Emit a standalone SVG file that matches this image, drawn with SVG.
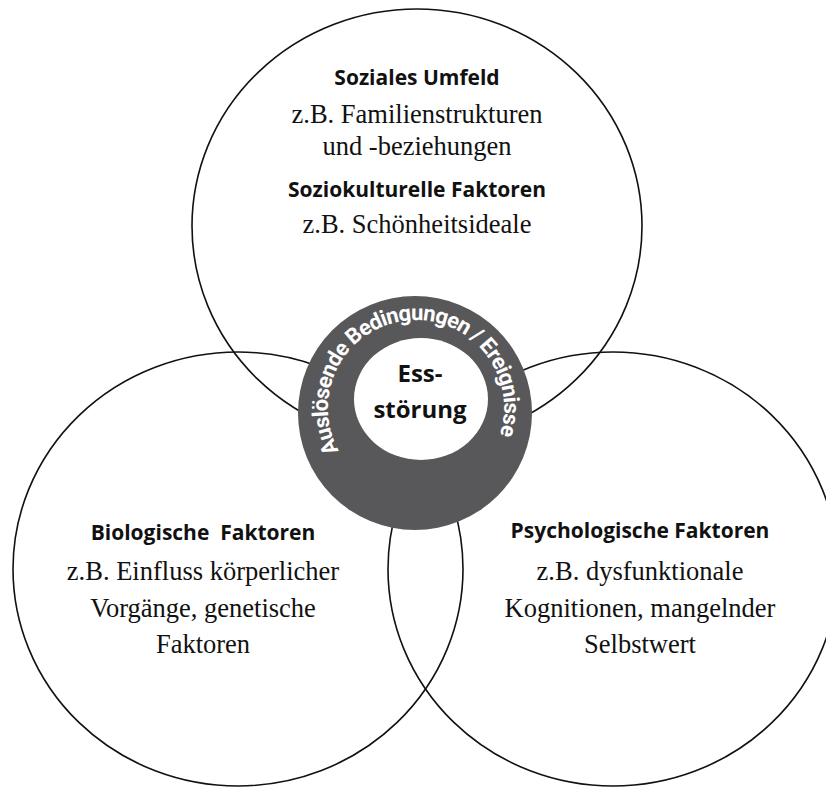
<svg xmlns="http://www.w3.org/2000/svg" width="826" height="791" viewBox="0 0 826 791">
  <style>
    .outline { fill: none; stroke: #111; stroke-width: 1.6; }
    .head { font-family: "Open Sans", "DejaVu Sans", sans-serif; font-weight: 700; font-size: 21px; fill: #111; text-anchor: middle; }
    .body { font-family: "Liberation Serif", "Times New Roman", serif; font-size: 26.5px; fill: #111; text-anchor: middle; }
    .ring { fill: #58585a; }
    .ringtext { font-family: Roboto, "Open Sans", sans-serif; font-weight: 700; font-size: 22px; fill: #fff; }
    .core { font-family: "Open Sans", "DejaVu Sans", sans-serif; font-weight: 700; font-size: 24px; fill: #111; text-anchor: middle; }
  </style>
  <defs>
    <path id="ringPath" d="M 339.0 450.7 A 88 88 0 1 1 499.7 435.2"/>
  </defs>
  <rect width="826" height="791" fill="#fff"/>

  <g id="sozial">
    <ellipse class="outline" cx="417" cy="226" rx="225" ry="217"/>
    <text class="head" x="417" y="85">Soziales Umfeld</text>
    <text class="body" x="417" y="123">z.B. Familienstrukturen</text>
    <text class="body" x="417" y="155">und -beziehungen</text>
    <text class="head" x="417" y="197">Soziokulturelle Faktoren</text>
    <text class="body" x="417" y="233">z.B. Schönheitsideale</text>
  </g>

  <g id="biologisch">
    <ellipse class="outline" cx="238" cy="569" rx="225" ry="217"/>
    <text class="head" x="203" y="540" xml:space="preserve">Biologische  Faktoren</text>
    <text class="body" x="203" y="580">z.B. Einfluss körperlicher</text>
    <text class="body" x="203" y="617">Vorgänge, genetische</text>
    <text class="body" x="203" y="653">Faktoren</text>
  </g>

  <g id="psychologisch">
    <ellipse class="outline" cx="613" cy="569" rx="225" ry="217"/>
    <text class="head" x="640" y="538">Psychologische Faktoren</text>
    <text class="body" x="640" y="580">z.B. dysfunktionale</text>
    <text class="body" x="640" y="617">Kognitionen, mangelnder</text>
    <text class="body" x="640" y="653">Selbstwert</text>
  </g>

  <g id="ausloeser">
    <ellipse class="ring" cx="415" cy="413" rx="117" ry="117"/>
    <ellipse fill="#fff" cx="421" cy="399" rx="67" ry="61"/>
    <text class="ringtext"><textPath href="#ringPath" textLength="348" lengthAdjust="spacing">Auslösende Bedingungen / Ereignisse</textPath></text>
  </g>

  <g id="essstoerung">
    <text class="core" x="420" y="382">Ess-</text>
    <text class="core" x="420" y="418">störung</text>
  </g>
</svg>
